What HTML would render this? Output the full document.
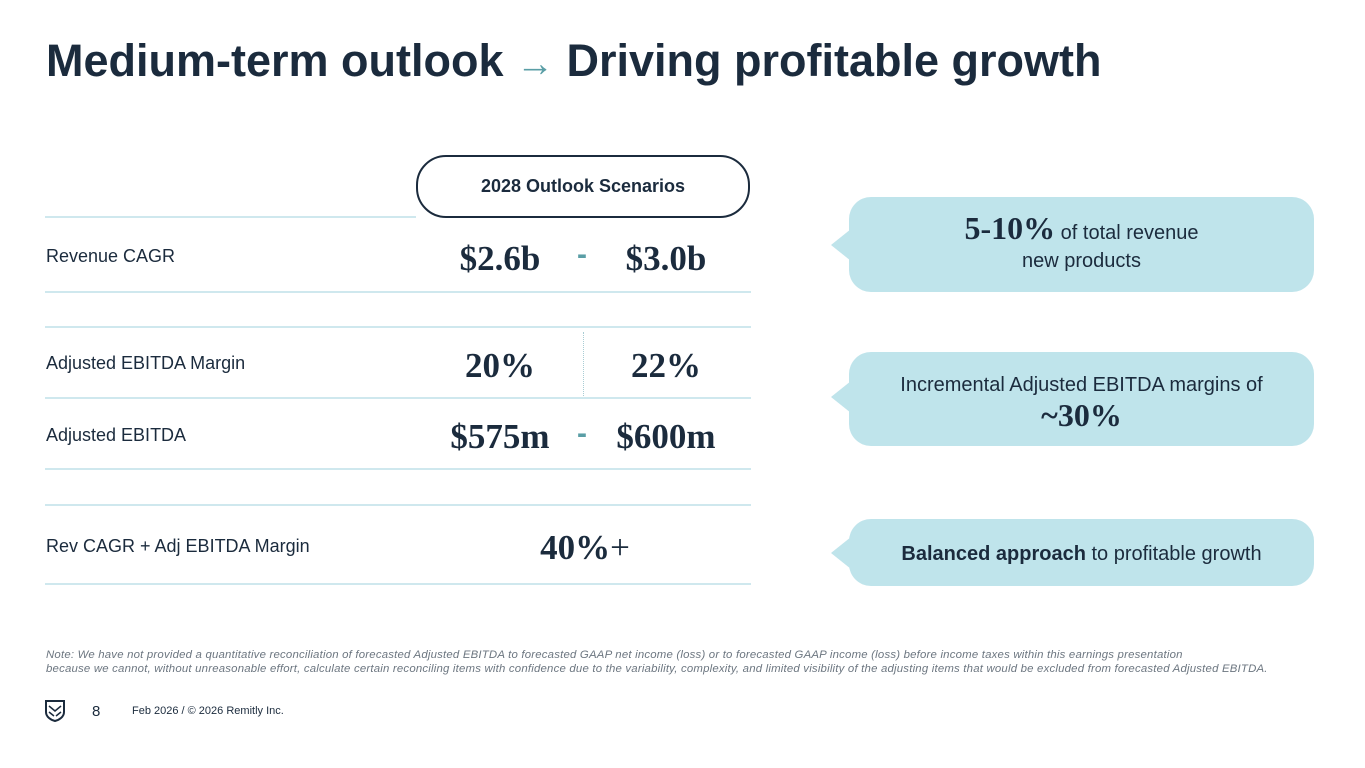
<!DOCTYPE html>
<html><head><meta charset="utf-8"><style>
body{margin:0;width:1365px;height:768px;background:#fff;position:relative;overflow:hidden;font-family:"Liberation Sans",sans-serif;color:#1b2b3d}
.a{position:absolute}
.ln{position:absolute;height:2px;background:#cfe8ee}
.lbl{position:absolute;left:46px;font-size:18px;color:#1b2b3d}
.v{position:absolute;font-family:"Liberation Serif",serif;font-weight:bold;font-size:35px;text-align:center;color:#1b2b3d;line-height:1}
.dash{position:absolute;font-size:30px;font-weight:bold;color:#5a9ea6;line-height:1}
.cb{position:absolute;left:849px;width:465px;background:#bfe4eb;border-radius:22px;text-align:center;font-size:20px;color:#1b2b3d}
.tip{position:absolute;left:831px;width:0;height:0;border-top:16px solid transparent;border-bottom:16px solid transparent;border-right:20px solid #bfe4eb}
.ser{font-family:"Liberation Serif",serif;font-weight:bold;font-size:32px}
</style></head><body>
<div class="a" style="left:46px;top:35px;font-size:45px;font-weight:bold;letter-spacing:0px">Medium-term outlook <span style="color:#5a9ea6;font-size:38px">→</span> Driving profitable growth</div>

<div class="a" style="left:416px;top:155px;width:330px;height:59px;border:2.5px solid #1b2b3d;border-radius:30px;text-align:center;line-height:59px;font-size:18px;font-weight:bold">2028 Outlook Scenarios</div>

<div class="ln" style="left:45px;top:216px;width:371px"></div>
<div class="ln" style="left:45px;top:291px;width:706px"></div>
<div class="ln" style="left:45px;top:326px;width:706px"></div>
<div class="ln" style="left:45px;top:397px;width:706px"></div>
<div class="ln" style="left:45px;top:468px;width:706px"></div>
<div class="ln" style="left:45px;top:504px;width:706px"></div>
<div class="ln" style="left:45px;top:583px;width:706px"></div>
<div class="a" style="left:583px;top:332px;height:64px;border-left:1px dotted #a9cdd4"></div>

<div class="lbl" style="top:246px">Revenue CAGR</div>
<div class="lbl" style="top:353px">Adjusted EBITDA Margin</div>
<div class="lbl" style="top:425px">Adjusted EBITDA</div>
<div class="lbl" style="top:536px">Rev CAGR + Adj EBITDA Margin</div>

<div class="v" style="left:430px;width:140px;top:241px">$2.6b</div>
<div class="dash" style="left:577px;top:240px">-</div>
<div class="v" style="left:596px;width:140px;top:241px">$3.0b</div>
<div class="v" style="left:430px;width:140px;top:348px">20%</div>
<div class="v" style="left:596px;width:140px;top:348px">22%</div>
<div class="v" style="left:420px;width:160px;top:419px">$575m</div>
<div class="dash" style="left:577px;top:419px">-</div>
<div class="v" style="left:586px;width:160px;top:419px">$600m</div>
<div class="v" style="left:500px;width:170px;top:530px">40%<span style="font-weight:normal">+</span></div>

<div class="tip" style="top:229px"></div>
<div class="cb" style="top:197px;height:95px"><div style="padding-top:16px;line-height:30px"><span class="ser">5-10%</span> of total revenue</div><div style="line-height:26px">new products</div></div>
<div class="tip" style="top:381px"></div>
<div class="cb" style="top:352px;height:94px"><div style="padding-top:20px;line-height:26px">Incremental Adjusted EBITDA margins of</div><div class="ser" style="line-height:34px">~30%</div></div>
<div class="tip" style="top:537px"></div>
<div class="cb" style="top:519px;height:67px;line-height:70px"><b>Balanced approach</b> to profitable growth</div>

<div class="a" style="left:46px;top:648px;font-size:11.4px;letter-spacing:0.2px;font-style:italic;color:#6c7680;line-height:14px;white-space:nowrap">Note: We have not provided a quantitative reconciliation of forecasted Adjusted EBITDA to forecasted GAAP net income (loss) or to forecasted GAAP income (loss) before income taxes within this earnings presentation<br>because we cannot, without unreasonable effort, calculate certain reconciling items with confidence due to the variability, complexity, and limited visibility of the adjusting items that would be excluded from forecasted Adjusted EBITDA.</div>

<svg class="a" style="left:45px;top:700px" width="20" height="22" viewBox="0 0 20 22"><path d="M1 1h18v11c0 5-5 8-9 9C6 20 1 17 1 12z" fill="none" stroke="#1b2b3d" stroke-width="2"/><path d="M4 6l6 5 6-5M4 12l5 4M16 12l-5 4" fill="none" stroke="#1b2b3d" stroke-width="1.5"/></svg>
<div class="a" style="left:92px;top:703px;font-size:15px">8</div>
<div class="a" style="left:132px;top:705px;font-size:11px">Feb 2026 / © 2026 Remitly Inc.</div>
</body></html>
